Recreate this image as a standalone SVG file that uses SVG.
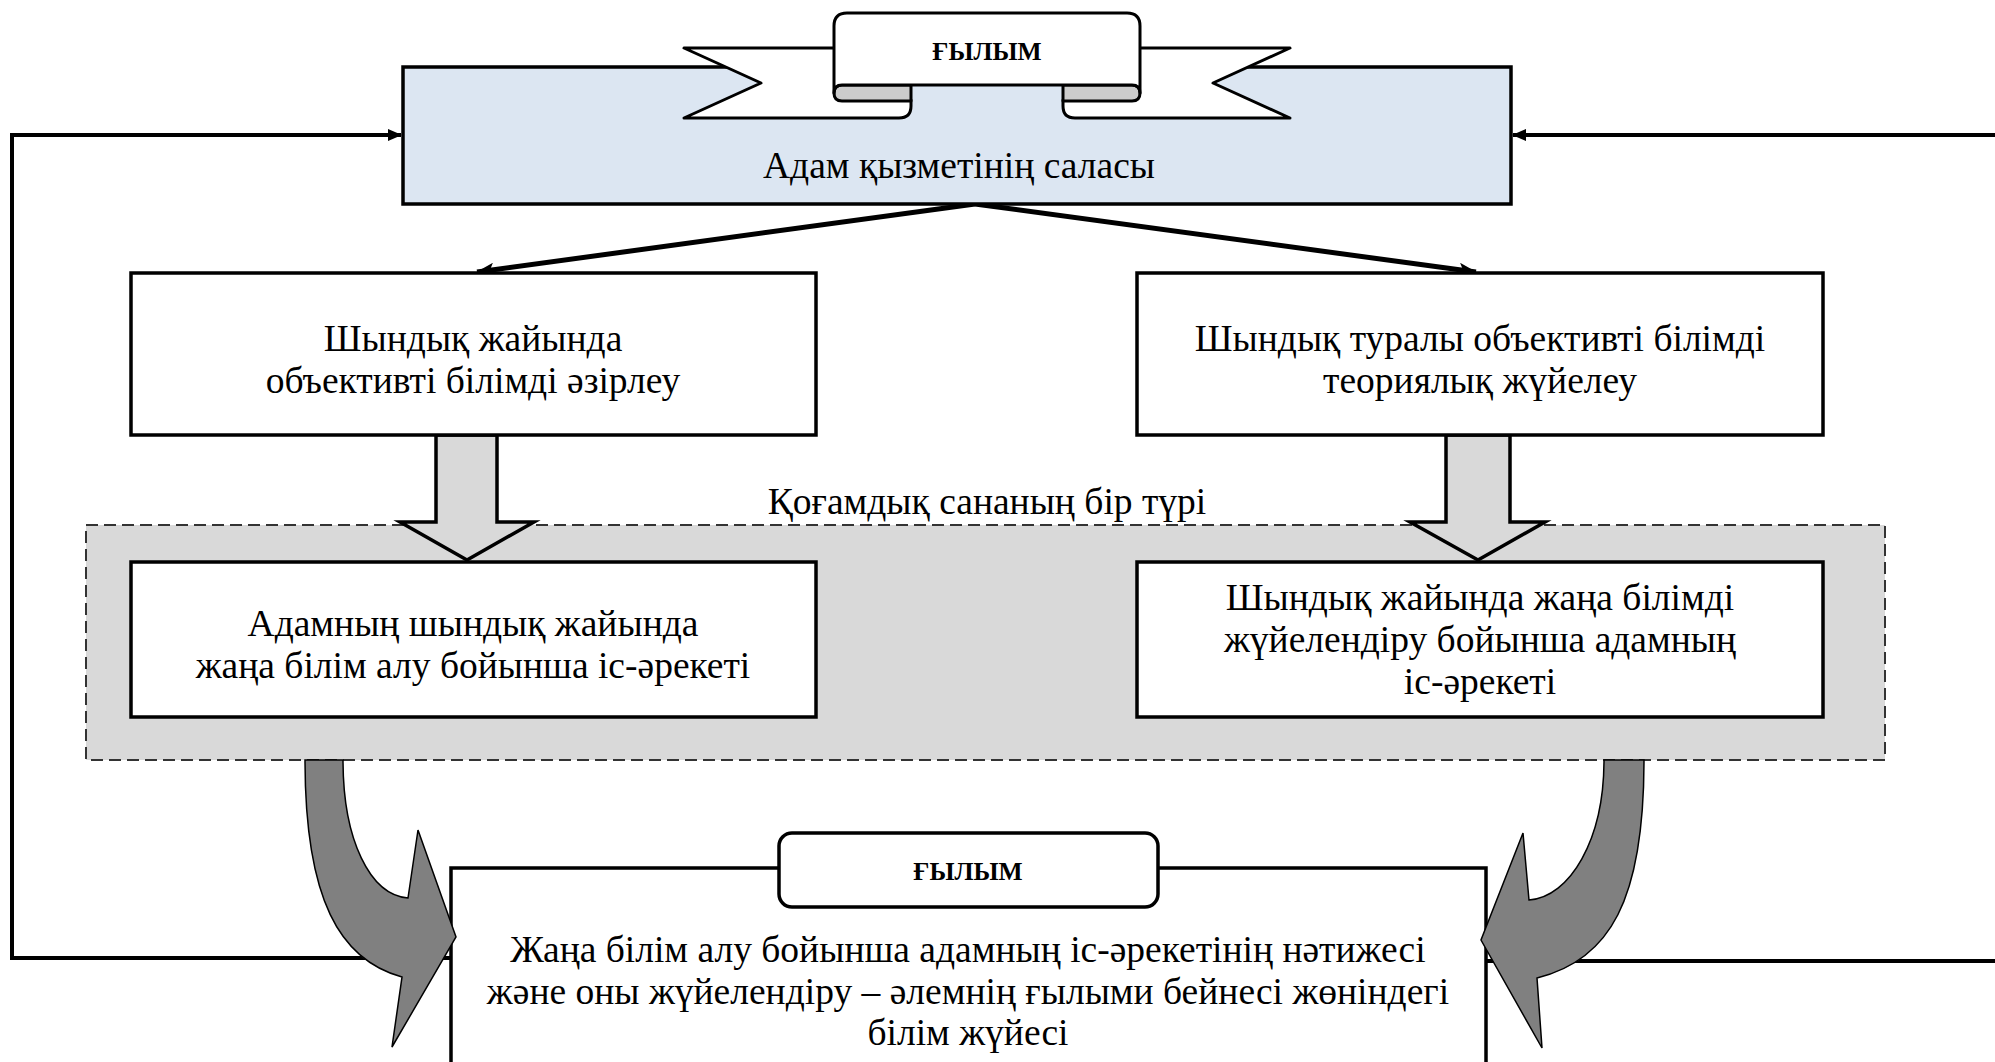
<svg xmlns="http://www.w3.org/2000/svg" width="1995" height="1062" viewBox="0 0 1995 1062">
<style>
  .box { fill: #ffffff; stroke: #000; stroke-width: 3.5; }
  .t { font-family: "Liberation Serif", "Times New Roman", serif; font-size: 37.5px; fill: #000; text-anchor: middle; }
  .tb { font-family: "Liberation Serif", "Times New Roman", serif; font-size: 25.5px; font-weight: bold; fill: #000; text-anchor: middle; }
  .conn { fill: none; stroke: #000; }
  .block { fill: #d9d9d9; stroke: #000; stroke-width: 3.5; stroke-linejoin: miter; }
  .curved { fill: #808080; stroke: #000; stroke-width: 1.5; stroke-linejoin: miter; }
  .rib { fill: #ffffff; stroke: #000; stroke-width: 3; stroke-linejoin: round; }
  .fold { fill: #cccccc; stroke: #000; stroke-width: 3; stroke-linejoin: round; }
</style>
<defs>
  <marker id="ah" markerUnits="userSpaceOnUse" markerWidth="18" markerHeight="14" refX="17" refY="7" orient="auto">
    <path d="M0,0 L18,7 L0,14 L4,7 Z" fill="#000"/>
  </marker>
  <marker id="ah2" markerUnits="userSpaceOnUse" markerWidth="14" markerHeight="12" refX="13" refY="6" orient="auto">
    <path d="M0,0 L14,6 L0,12 Z" fill="#000"/>
  </marker>
</defs>

<rect width="1995" height="1062" fill="#ffffff"/>

<!-- gray dashed region -->
<g id="region">
  <rect x="86" y="525" width="1799" height="235" fill="#d9d9d9" stroke="#333" stroke-width="2" stroke-dasharray="12 6"/>
  <text class="t" x="987" y="514">Қоғамдық сананың бір түрі</text>
</g>

<!-- connectors -->
<g id="connectors">
  <polyline class="conn" stroke-width="4" points="451,958 12,958 12,135 401,135" marker-end="url(#ah2)"/>
  <polyline class="conn" stroke-width="4" points="1486,961 2005,961 2005,135 1513,135" marker-end="url(#ah2)"/>
  <line class="conn" stroke-width="5" x1="975" y1="204" x2="477" y2="272" marker-end="url(#ah)"/>
  <line class="conn" stroke-width="5" x1="975" y1="204" x2="1476" y2="272" marker-end="url(#ah)"/>
  <path class="block" d="M436,435 L497,435 L497,522 L534,522 L467,560 L400,522 L436,522 Z"/>
  <path class="block" d="M1446,435 L1510,435 L1510,522 L1545,522 L1478,560 L1410,522 L1446,522 Z"/>
</g>

<!-- top node -->
<g id="node-top">
  <rect x="403" y="67" width="1108" height="137" fill="#dce6f2" stroke="#000" stroke-width="3.5"/>
  <text class="t" x="959" y="178">Адам қызметінің саласы</text>
</g>

<!-- top ribbon -->
<g id="ribbon-top">
  <path class="rib" d="M684,48 L860,48 L860,100 L911,100 L911,106 Q911,118 899,118 L684,118 L761,83 Z"/>
  <path class="rib" d="M1290,48 L1114,48 L1114,100 L1063,100 L1063,106 Q1063,118 1075,118 L1290,118 L1213,83 Z"/>
  <path class="fold" d="M911,85 L911,101 L842,101 Q834,101 834,93 Q834,85 842,85 Z"/>
  <path class="fold" d="M1063,85 L1063,101 L1132,101 Q1140,101 1140,93 Q1140,85 1132,85 Z"/>
  <path class="rib" d="M834,93 L834,26 Q834,13 847,13 L1127,13 Q1140,13 1140,26 L1140,93 Q1140,85 1132,85 L842,85 Q834,85 834,93 Z"/>
  <text class="tb" x="987" y="60">ҒЫЛЫМ</text>
</g>

<g id="node-left-upper">
  <rect class="box" x="131" y="273" width="685" height="162"/>
  <text class="t" x="473" y="351">Шындық жайында</text>
  <text class="t" x="473" y="393">объективті білімді әзірлеу</text>
</g>

<g id="node-right-upper">
  <rect class="box" x="1137" y="273" width="686" height="162"/>
  <text class="t" x="1480" y="351">Шындық туралы объективті білімді</text>
  <text class="t" x="1480" y="393">теориялық жүйелеу</text>
</g>

<g id="node-left-lower">
  <rect class="box" x="131" y="562" width="685" height="155"/>
  <text class="t" x="473" y="636">Адамның шындық жайында</text>
  <text class="t" x="473" y="678">жаңа білім алу бойынша іс-әрекеті</text>
</g>

<g id="node-right-lower">
  <rect class="box" x="1137" y="562" width="686" height="155"/>
  <text class="t" x="1480" y="610">Шындық жайында жаңа білімді</text>
  <text class="t" x="1480" y="652">жүйелендіру бойынша адамның</text>
  <text class="t" x="1480" y="694">іс-әрекеті</text>
</g>

<g id="node-bottom">
  <rect class="box" x="451" y="868" width="1035" height="200"/>
  <text class="t" x="968" y="962">Жаңа білім алу бойынша адамның іс-әрекетінің нәтижесі</text>
  <text class="t" x="968" y="1004">және оны жүйелендіру – әлемнің ғылыми бейнесі жөніндегі</text>
  <text class="t" x="968" y="1045">білім жүйесі</text>
</g>

<g id="label-bottom">
  <rect x="779" y="833" width="379" height="74" rx="13" ry="13" fill="#fff" stroke="#000" stroke-width="3.5"/>
  <text class="tb" x="968" y="880">ҒЫЛЫМ</text>
</g>

<g id="curved-arrows">
  <path class="curved" d="M305,760 C305,900 340,960 402,977 L392,1047 L456,937 L418,830 L408,898 C370,895 343,840 343,760 Z"/>
  <path class="curved" d="M1644,760 C1644,900 1610,960 1537,978 L1542,1048 L1481,940 L1523,833 L1529,900 C1570,897 1604,840 1604,760 Z"/>
</g>
</svg>
